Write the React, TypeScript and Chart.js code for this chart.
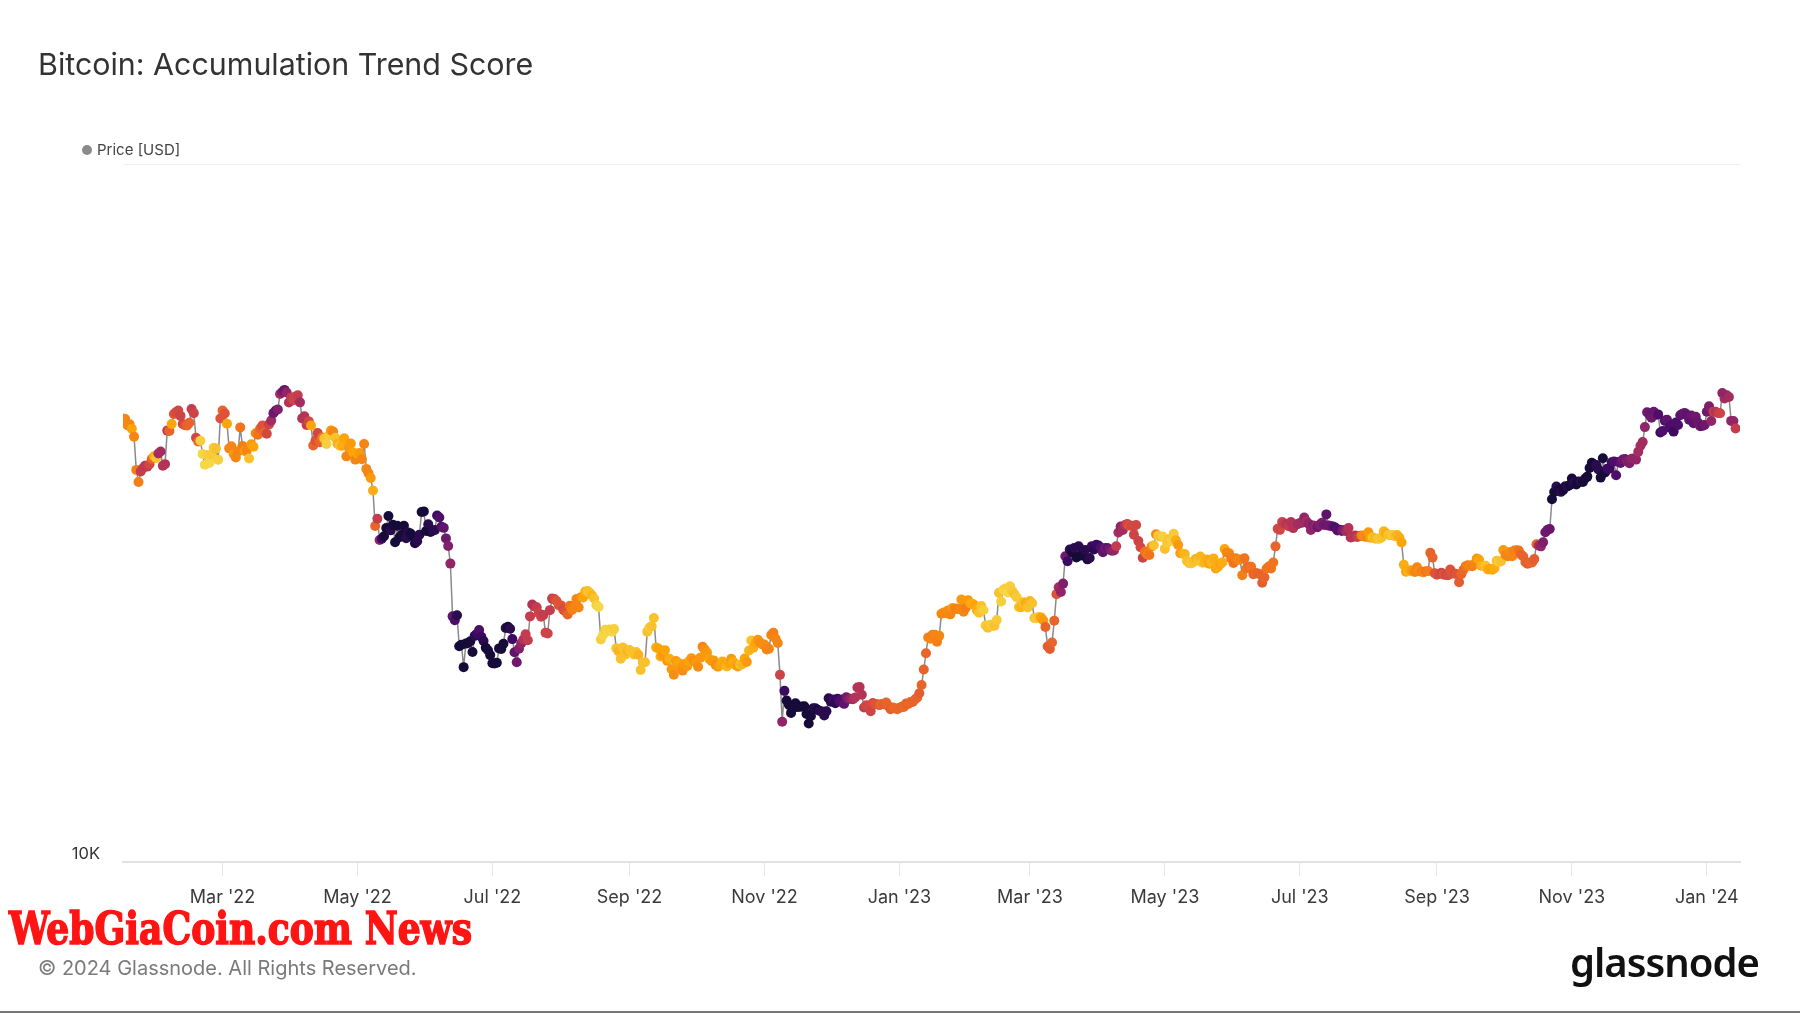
import React, { useEffect, useRef } from "react";
import { Chart, registerables } from "chart.js";

Chart.register(...registerables);

// ---------- DATA ----------
const seriesStart = "2022-01-15"; // first daily observation
const axisMin = "2022-01-15";
const axisMax = "2024-01-16";

const tickDates = [
  "2022-03-01", "2022-05-01", "2022-07-01", "2022-09-01", "2022-11-01", "2023-01-01",
  "2023-03-01", "2023-05-01", "2023-07-01", "2023-09-01", "2023-11-01", "2024-01-01",
];
const tickLabels = [
  "Mar '22", "May '22", "Jul '22", "Sep '22", "Nov '22", "Jan '23",
  "Mar '23", "May '23", "Jul '23", "Sep '23", "Nov '23", "Jan '24",
];
const yTickValues = [10000, 100000];
const yTickLabels = ["10K", ""];

// Daily BTC price [USD]
const prices2022 = [
  // Jan 15-31
  43177, 43113, 42250, 42375, 41744, 40680, 36457, 35030, 36276, 36654, 36954, 36852, 37138, 37784, 38138, 37917, 38483,
  // Feb
  38743, 36952, 37154, 41500, 41441, 42412, 43841, 44118, 44338, 43565,
  42407, 42244, 42197, 42586, 44575, 43961, 40538, 40030, 40122, 38431,
  37075, 38286, 37296, 38332, 39214, 39105, 37710, 43194,
  // Mar
  44354, 43925, 42452, 39137, 39400, 38420, 37988, 38730, 41941, 39439,
  38794, 38904, 37849, 39666, 39338, 41143, 40951, 41801, 42191, 41247,
  41077, 42358, 42892, 43960, 44348, 44500, 46820, 47128, 47465, 47062, 45538,
  // Apr
  46281, 45868, 46453, 46622, 45555, 43206, 43503, 42287, 42782, 42207,
  39521, 40127, 41166, 39936, 40553, 40424, 39716, 40826, 41502, 41374,
  40527, 39740, 39478, 39469, 40458, 38118, 39241, 39773, 38609, 37714,
  // May
  38469, 38529, 37750, 39698, 36575, 36040, 35501, 34059, 30296, 31022,
  28936, 29047, 29283, 30101, 31305, 29863, 30425, 28720, 30315, 29200,
  29433, 30323, 29098, 29655, 29562, 29268, 28627, 28814, 29445, 31726, 31792,
  // Jun
  29799, 30467, 29704, 29833, 29906, 31370, 31155, 30214, 30112, 29083,
  28360, 26762, 22487, 22206, 22572, 20381, 20471, 19017, 20553, 20599,
  20710, 19988, 21085, 21231, 21502, 21027, 20735, 20280, 20104, 19785,
  // Jul
  19269, 19243, 19297, 20231, 20190, 20548, 21637, 21731, 21592, 20860,
  19970, 19323, 20212, 20569, 20837, 21190, 20779, 22485, 23390, 23231,
  23164, 22714, 22466, 22579, 21310, 21254, 22952, 23842, 23804, 23656, 23337,
  // Aug
  23314, 22978, 22846, 22630, 23289, 22961, 23175, 23810, 23149, 23954,
  23935, 24403, 24442, 24305, 24094, 23854, 23342, 23191, 20834, 21140,
  21516, 21400, 21529, 21368, 21560, 20241, 20037, 19555, 20285, 19811, 20050,
  // Sep
  20127, 19969, 19832, 19986, 19812, 18837, 19290, 19329, 21381, 21680,
  21769, 22370, 20297, 20226, 19701, 19803, 20114, 19417, 19544, 18890,
  18547, 19413, 19298, 18937, 18803, 19223, 19079, 19412, 19591, 19423,
  // Oct
  19311, 19045, 19623, 20337, 20160, 19956, 19531, 19417, 19446, 19141,
  19052, 19157, 19382, 19185, 19067, 19268, 19550, 19334, 19139, 19053,
  19172, 19208, 19567, 19345, 20095, 20771, 20285, 20595, 20818, 20635, 20495,
  // Nov
  20485, 20159, 20209, 21148, 21300, 20905, 20591, 18541, 15880, 17586,
  17034, 16800, 16354, 16618, 16884, 16670, 16688, 16697, 16712, 16292,
  15787, 16190, 16611, 16603, 16522, 16458, 16428, 16213, 16444, 17168,
  // Dec
  16968, 17090, 16889, 17130, 16975, 17090, 16848, 17224, 17128, 17128,
  17105, 17206, 17781, 17815, 17364, 16647, 16776, 16739, 16438, 16895,
  16824, 16821, 16779, 16837, 16832, 16919, 16717, 16552, 16642, 16602, 16547,
];

const prices2023 = [
  // Jan
  16625, 16688, 16680, 16863, 16836, 16951, 16955, 17091, 17196, 17446,
  17934, 18869, 19909, 20976, 20880, 21169, 21161, 20688, 21086, 22676,
  22777, 22720, 22934, 22636, 23117, 23032, 23078, 23031, 23774, 22840, 23139,
  // Feb
  23723, 23471, 23449, 23331, 22955, 22760, 23264, 22939, 21819, 21651,
  21870, 21788, 21808, 22220, 24307, 23623, 24565, 24641, 24327, 24829,
  24436, 24188, 23947, 23198, 23175, 23561, 23522, 23147,
  // Mar
  23646, 23475, 22362, 22354, 22430, 22410, 22197, 21705, 20363, 20187,
  20632, 22163, 24197, 24746, 24375, 25052, 27423, 26965, 28038, 27767,
  28175, 27307, 28333, 27493, 27494, 27994, 27139, 27268, 28348, 28033, 28478,
  // Apr
  28411, 28199, 27790, 28168, 28177, 28044, 27925, 27947, 28333, 29653,
  30235, 29892, 30400, 30485, 30318, 30315, 29445, 30397, 28822, 28246,
  27276, 27817, 27591, 27525, 28307, 28423, 29473, 29340, 29249, 29268,
  // May
  28091, 28680, 29006, 28847, 29534, 28905, 28454, 27695, 27654, 27621,
  27000, 26804, 26784, 26930, 27192, 27036, 27398, 26832, 26890, 27129,
  26753, 26851, 27225, 26334, 26476, 26719, 26868, 28085, 27745, 27702, 27219,
  // Jun
  26819, 27249, 27075, 27119, 25760, 27238, 26346, 26498, 26477, 25841,
  25940, 25903, 25842, 25127, 25575, 26328, 26510, 26336, 26851, 28328,
  30027, 29912, 30696, 30548, 30481, 30272, 30697, 30086, 30446, 30477,
  // Jul
  30590, 30620, 31156, 30777, 30515, 29896, 30346, 30291, 30171, 30414,
  30620, 30392, 31476, 30335, 30295, 30249, 30145, 29856, 29913, 29793,
  29908, 29771, 30084, 29177, 29228, 29354, 29210, 29319, 29357, 29275, 29230,
  // Aug
  29676, 29152, 29179, 29074, 29043, 29041, 29180, 29766, 29561, 29429,
  29397, 29416, 29283, 29408, 29170, 28701, 26664, 26049, 26096, 26189,
  26124, 26040, 26431, 26163, 26049, 26008, 26089, 26106, 27727, 27297, 25931,
  // Sep
  25800, 25869, 25970, 25813, 25779, 25753, 26240, 25905, 25895, 25832,
  25163, 25833, 26228, 26539, 26608, 26568, 26534, 26755, 27212, 27132,
  26567, 26580, 26579, 26256, 26298, 26217, 26352, 27021, 26911, 26967,
  // Oct
  27983, 27530, 27429, 27799, 27415, 27946, 27968, 27936, 27583, 27391,
  26873, 26756, 26862, 26861, 27160, 28519, 28415, 28328, 28719, 29682,
  29918, 29993, 33086, 33901, 34502, 34156, 33909, 34089, 34538, 34502, 34667,
  // Nov
  35437, 34938, 34732, 35082, 35049, 35037, 35443, 35655, 36693, 37313,
  37138, 37054, 36502, 35537, 37880, 36154, 36596, 36585, 37386, 37476,
  35813, 37432, 37289, 37721, 37796, 37479, 37254, 37831, 37858, 37712,
  // Dec
  38688, 39476, 39978, 41980, 44080, 43746, 43292, 44167, 43725, 43779,
  41244, 41450, 42890, 43023, 41929, 42240, 41365, 42623, 42270, 43652,
  43870, 43997, 43740, 43016, 43614, 42520, 43443, 42627, 42100, 42157, 42265,
];

const prices2024 = [
  // Jan 1-14
  44167, 44958, 42848, 44179, 44162, 43989, 43943, 46970, 46139, 46627, 46368, 42853, 42842, 41796,
];

// Accumulation Trend Score (0 = distribution, 1 = accumulation), one per day
const scores2022 = [
  // Jan 15-31
  0.18, 0.2, 0.2, 0.2, 0.12, 0.2, 0.22, 0.22, 0.45, 0.45, 0.48, 0.45, 0.4, 0.3, 0.1, 0.05, 0.55,
  // Feb
  0.55, 0.5, 0.5, 0.45, 0.3, 0.12, 0.35, 0.38, 0.4, 0.42,
  0.42, 0.35, 0.3, 0.3, 0.45, 0.42, 0.4, 0.3, 0.02, 0.0,
  0.0, 0.02, 0.0, 0.03, 0.03, 0.05, 0.02, 0.35,
  // Mar
  0.3, 0.35, 0.12, 0.2, 0.2, 0.15, 0.2, 0.2, 0.25, 0.22,
  0.15, 0.2, 0.05, 0.15, 0.12, 0.2, 0.25, 0.3, 0.35, 0.3,
  0.4, 0.42, 0.55, 0.7, 0.72, 0.65, 0.55, 0.65, 0.72, 0.6, 0.5,
  // Apr
  0.45, 0.42, 0.42, 0.45, 0.55, 0.5, 0.5, 0.45, 0.4, 0.12,
  0.3, 0.35, 0.4, 0.3, 0.25, 0.05, 0.02, 0.03, 0.15, 0.2,
  0.05, 0.1, 0.05, 0.1, 0.12, 0.2, 0.15, 0.15, 0.12, 0.2,
  // May
  0.12, 0.15, 0.2, 0.2, 0.2, 0.2, 0.15, 0.1, 0.3, 0.45,
  0.6, 0.85, 0.95, 0.95, 0.95, 0.9, 0.95, 0.95, 0.95, 0.95,
  0.95, 0.95, 0.9, 0.9, 0.95, 0.95, 0.95, 0.9, 0.9, 0.95, 0.95,
  // Jun
  0.95, 0.9, 0.95, 0.9, 0.9, 0.85, 0.8, 0.8, 0.75, 0.7,
  0.65, 0.6, 0.75, 0.8, 0.9, 0.95, 0.95, 0.95, 0.95, 0.95,
  0.95, 0.95, 0.9, 0.85, 0.8, 0.85, 0.9, 0.95, 0.95, 0.95,
  // Jul
  0.95, 0.95, 0.95, 0.95, 0.95, 0.95, 0.9, 0.95, 0.9, 0.85,
  0.75, 0.7, 0.65, 0.6, 0.5, 0.45, 0.45, 0.45, 0.5, 0.5,
  0.45, 0.42, 0.42, 0.45, 0.42, 0.42, 0.45, 0.45, 0.4, 0.35, 0.35,
  // Aug
  0.35, 0.38, 0.35, 0.3, 0.25, 0.22, 0.2, 0.2, 0.2, 0.18,
  0.12, 0.1, 0.05, 0.05, 0.08, 0.05, 0.02, 0.0, 0.02, 0.0,
  0.02, 0.0, 0.02, 0.0, 0.02, 0.05, 0.08, 0.05, 0.05, 0.05, 0.08,
  // Sep
  0.05, 0.05, 0.05, 0.05, 0.08, 0.05, 0.05, 0.05, 0.05, 0.03,
  0.05, 0.05, 0.1, 0.12, 0.1, 0.15, 0.12, 0.15, 0.1, 0.15,
  0.18, 0.15, 0.12, 0.15, 0.18, 0.15, 0.15, 0.12, 0.15, 0.18,
  // Oct
  0.15, 0.18, 0.15, 0.2, 0.18, 0.15, 0.12, 0.15, 0.15, 0.18,
  0.15, 0.12, 0.1, 0.12, 0.08, 0.12, 0.15, 0.1, 0.12, 0.15,
  0.05, 0.08, 0.12, 0.15, 0.08, 0.05, 0.1, 0.12, 0.15, 0.18, 0.18,
  // Nov
  0.18, 0.2, 0.2, 0.2, 0.22, 0.2, 0.2, 0.42, 0.6, 0.85,
  0.95, 0.95, 0.95, 0.95, 0.95, 0.95, 0.95, 0.95, 0.95, 0.95,
  0.95, 0.95, 0.95, 0.9, 0.95, 0.9, 0.9, 0.9, 0.9, 0.9,
  // Dec
  0.9, 0.85, 0.9, 0.85, 0.8, 0.8, 0.75, 0.7, 0.65, 0.6,
  0.55, 0.5, 0.5, 0.5, 0.5, 0.45, 0.4, 0.4, 0.42, 0.38,
  0.35, 0.35, 0.32, 0.3, 0.32, 0.3, 0.3, 0.32, 0.3, 0.28, 0.3,
];

const scores2023 = [
  // Jan
  0.28, 0.3, 0.28, 0.3, 0.3, 0.28, 0.3, 0.3, 0.3, 0.32,
  0.3, 0.3, 0.3, 0.22, 0.2, 0.22, 0.2, 0.22, 0.2, 0.2,
  0.18, 0.2, 0.18, 0.2, 0.15, 0.2, 0.22, 0.2, 0.15, 0.2, 0.22,
  // Feb
  0.15, 0.12, 0.1, 0.12, 0.1, 0.05, 0.05, 0.02, 0.03, 0.05,
  0.03, 0.02, 0.05, 0.03, 0.05, 0.02, 0.0, 0.02, 0.0, 0.02,
  0.03, 0.05, 0.03, 0.05, 0.08, 0.05, 0.1, 0.05,
  // Mar
  0.08, 0.05, 0.05, 0.03, 0.05, 0.12, 0.15, 0.3, 0.32, 0.32,
  0.3, 0.3, 0.35, 0.55, 0.6, 0.65, 0.7, 0.85, 0.9, 0.95,
  0.9, 0.95, 0.9, 0.95, 0.95, 0.9, 0.95, 0.9, 0.85, 0.9, 0.85,
  // Apr
  0.85, 0.8, 0.75, 0.7, 0.75, 0.7, 0.65, 0.6, 0.45, 0.55,
  0.6, 0.55, 0.5, 0.4, 0.35, 0.4, 0.42, 0.4, 0.42, 0.4,
  0.42, 0.25, 0.22, 0.25, 0.2, 0.05, 0.2, 0.03, 0.05, 0.02,
  // May
  0.05, 0.03, 0.05, 0.02, 0.03, 0.1, 0.15, 0.15, 0.1, 0.08,
  0.05, 0.05, 0.03, 0.05, 0.08, 0.05, 0.08, 0.05, 0.08, 0.1,
  0.12, 0.08, 0.1, 0.12, 0.1, 0.12, 0.1, 0.12, 0.2, 0.2, 0.22,
  // Jun
  0.25, 0.22, 0.2, 0.2, 0.22, 0.25, 0.25, 0.28, 0.25, 0.3,
  0.28, 0.3, 0.3, 0.32, 0.3, 0.25, 0.25, 0.25, 0.25, 0.3,
  0.4, 0.4, 0.42, 0.45, 0.5, 0.45, 0.5, 0.5, 0.5, 0.55,
  // Jul
  0.55, 0.55, 0.6, 0.55, 0.6, 0.6, 0.65, 0.6, 0.7, 0.65,
  0.65, 0.7, 0.75, 0.7, 0.7, 0.75, 0.8, 0.75, 0.8, 0.7,
  0.65, 0.55, 0.5, 0.5, 0.48, 0.5, 0.45, 0.4, 0.2, 0.18, 0.2,
  // Aug
  0.15, 0.12, 0.05, 0.08, 0.05, 0.03, 0.05, 0.08, 0.1, 0.05,
  0.05, 0.03, 0.05, 0.08, 0.1, 0.12, 0.1, 0.12, 0.08, 0.12,
  0.15, 0.2, 0.2, 0.18, 0.22, 0.2, 0.25, 0.22, 0.3, 0.3, 0.35,
  // Sep
  0.35, 0.38, 0.4, 0.35, 0.4, 0.38, 0.35, 0.35, 0.38, 0.35,
  0.32, 0.3, 0.28, 0.25, 0.22, 0.2, 0.22, 0.2, 0.15, 0.12,
  0.1, 0.08, 0.05, 0.1, 0.12, 0.12, 0.1, 0.05, 0.03, 0.05,
  // Oct
  0.15, 0.2, 0.2, 0.18, 0.2, 0.22, 0.2, 0.25, 0.3, 0.3,
  0.3, 0.32, 0.3, 0.3, 0.32, 0.3, 0.55, 0.6, 0.65, 0.7,
  0.7, 0.72, 0.95, 0.95, 0.9, 0.95, 0.9, 0.95, 0.95, 0.9, 0.95,
  // Nov
  0.95, 0.9, 0.95, 0.95, 0.9, 0.95, 0.95, 0.95, 0.95, 0.95,
  0.95, 0.9, 0.9, 0.95, 0.95, 0.95, 0.85, 0.85, 0.85, 0.8,
  0.8, 0.8, 0.75, 0.7, 0.7, 0.65, 0.65, 0.6, 0.6, 0.6,
  // Dec
  0.55, 0.55, 0.55, 0.6, 0.7, 0.72, 0.7, 0.72, 0.7, 0.8,
  0.85, 0.8, 0.8, 0.75, 0.8, 0.8, 0.85, 0.8, 0.8, 0.75,
  0.75, 0.72, 0.75, 0.75, 0.72, 0.75, 0.7, 0.72, 0.7, 0.75, 0.7,
];

const scores2024 = [
  // Jan 1-14
  0.7, 0.65, 0.6, 0.45, 0.5, 0.45, 0.42, 0.6, 0.55, 0.6, 0.55, 0.6, 0.6, 0.45,
];

// inferno colour scale stops
const infernoStops = [
  "#000004", "#160b39", "#420a68", "#6a176e", "#932667", "#bc3754",
  "#dd513a", "#f37819", "#fca50a", "#f6d746", "#fcffa4",
];

const DAY = 86400000;

function hexToRgb(h: string): number[] {
  const v = parseInt(h.slice(1), 16);
  return [(v >> 16) & 255, (v >> 8) & 255, v & 255];
}

function scoreColor(s: number): string {
  const t = 0.9 - 0.84 * s;
  const p = Math.max(0, Math.min(1, t)) * 10;
  const i = Math.min(9, Math.floor(p));
  const f = p - i;
  const a = hexToRgb(infernoStops[i]);
  const b = hexToRgb(infernoStops[i + 1]);
  const c = a.map((av, k) => Math.round(av + (b[k] - av) * f));
  return `rgb(${c[0]},${c[1]},${c[2]})`;
}

function utc(d: string): number {
  return Date.parse(d + "T00:00:00Z");
}

export default function App() {
  const canvasRef = useRef<HTMLCanvasElement>(null);
  const wmRef = useRef<HTMLSpanElement>(null);

  useEffect(() => {
    const fit = () => {
      const el = wmRef.current;
      if (!el) return;
      el.style.transform = "none";
      const w = el.getBoundingClientRect().width;
      if (w > 0) el.style.transform = `scaleX(${463 / w})`;
    };
    fit();
    if ((document as any).fonts && (document as any).fonts.ready) {
      (document as any).fonts.ready.then(fit);
    }
  }, []);

  useEffect(() => {
    const canvas = canvasRef.current;
    if (!canvas) return;
    const prices = [...prices2022, ...prices2023, ...prices2024];
    const scores = [...scores2022, ...scores2023, ...scores2024];
    const start = utc(seriesStart);
    const data = prices.map((p, i) => ({ x: start + i * DAY, y: p }));
    const colors = scores.map(scoreColor);

    Chart.defaults.font.family = "Inter";

    const chart = new Chart(canvas, {
      type: "line",
      data: {
        datasets: [
          {
            label: "Price [USD]",
            data,
            borderColor: "#8a8a8a",
            borderWidth: 1.5,
            pointRadius: 5,
            pointHoverRadius: 5,
            pointBackgroundColor: colors,
            pointBorderColor: colors,
            pointBorderWidth: 0,
            tension: 0,
          },
        ],
      },
      options: {
        responsive: false,
        animation: false,
        events: [],
        layout: { padding: { left: 0, right: 60, top: 164, bottom: 105 } },
        plugins: {
          legend: { display: false },
          tooltip: { enabled: false },
          title: { display: false },
        },
        scales: {
          x: {
            type: "linear",
            min: utc(axisMin),
            max: utc(axisMax),
            afterBuildTicks: (s: any) => {
              s.ticks = tickDates.map((d) => ({ value: utc(d) }));
            },
            afterFit: (s: any) => {
              s.height = 46;
            },
            ticks: {
              autoSkip: false,
              maxRotation: 0,
              minRotation: 0,
              padding: 11,
              color: "#3a3a3a",
              font: { family: "Inter", size: 18 },
              callback: (_v: any, i: number) => tickLabels[i],
            },
            grid: {
              drawOnChartArea: false,
              drawTicks: true,
              tickLength: 14,
              color: "#e6e6e6",
              lineWidth: 1,
            },
            border: { display: true, color: "#e2e2e2", width: 2 },
          },
          y: {
            type: "logarithmic",
            min: 10000,
            max: 100000,
            afterBuildTicks: (s: any) => {
              s.ticks = yTickValues.map((v) => ({ value: v }));
            },
            afterFit: (s: any) => {
              s.width = 123;
            },
            ticks: {
              padding: 23,
              labelOffset: -8,
              color: "#333333",
              font: { family: "Inter", size: 16.5 },
              callback: (v: any) => {
                const i = yTickValues.indexOf(Number(v));
                return i >= 0 ? yTickLabels[i] : "";
              },
            },
            grid: { color: "#efefef", drawTicks: false, lineWidth: 1 },
            border: { display: false },
          },
        },
      },
    });
    return () => chart.destroy();
  }, []);

  return (
    <div
      style={{
        position: "absolute",
        left: 0,
        top: 0,
        width: 1800,
        height: 1013,
        background: "#ffffff",
        overflow: "hidden",
        fontFamily: "Inter, 'Noto Sans', sans-serif",
      }}
    >
      <canvas
        ref={canvasRef}
        width={1800}
        height={1013}
        style={{ position: "absolute", left: 0, top: 0, width: 1800, height: 1013 }}
      />
      <div
        style={{
          position: "absolute",
          left: 38,
          top: 49,
          fontSize: 30.4,
          lineHeight: "30px",
          color: "#333333",
          whiteSpace: "nowrap",
        }}
      >
        Bitcoin: Accumulation Trend Score
      </div>
      <div
        style={{
          position: "absolute",
          left: 82,
          top: 145,
          width: 10,
          height: 10,
          borderRadius: 5,
          background: "#8a8a8a",
        }}
      />
      <div
        style={{
          position: "absolute",
          left: 97,
          top: 142,
          fontSize: 15,
          lineHeight: "15px",
          color: "#444444",
          whiteSpace: "nowrap",
        }}
      >
        Price [USD]
      </div>
      <div
        style={{
          position: "absolute",
          left: 9,
          top: 906,
          whiteSpace: "nowrap",
          lineHeight: "45px",
          height: 45,
        }}
      >
        <span
          ref={wmRef}
          style={{
            display: "inline-block",
            transformOrigin: "left center",
            fontFamily: "'DejaVu Serif Condensed', 'DejaVu Serif', serif",
            fontWeight: 700,
            fontSize: 44,
            lineHeight: "45px",
            color: "#ff1414",
            WebkitTextStroke: "1.5px #ff1414",
          }}
        >
          WebGiaCoin.com News
        </span>
      </div>
      <div
        style={{
          position: "absolute",
          left: 38,
          top: 958,
          fontSize: 20,
          lineHeight: "20px",
          color: "#7a7a7a",
          whiteSpace: "nowrap",
        }}
      >
        © 2024 Glassnode. All Rights Reserved.
      </div>
      <div
        style={{
          position: "absolute",
          left: 1570,
          top: 942,
          fontFamily: "'Noto Sans', sans-serif",
          fontWeight: 600,
          fontSize: 40,
          lineHeight: "40px",
          color: "#111111",
          letterSpacing: -1,
          whiteSpace: "nowrap",
        }}
      >
        glassnode
      </div>
      <div
        style={{
          position: "absolute",
          left: 0,
          top: 1011,
          width: 1800,
          height: 2,
          background: "#777777",
        }}
      />
    </div>
  );
}
